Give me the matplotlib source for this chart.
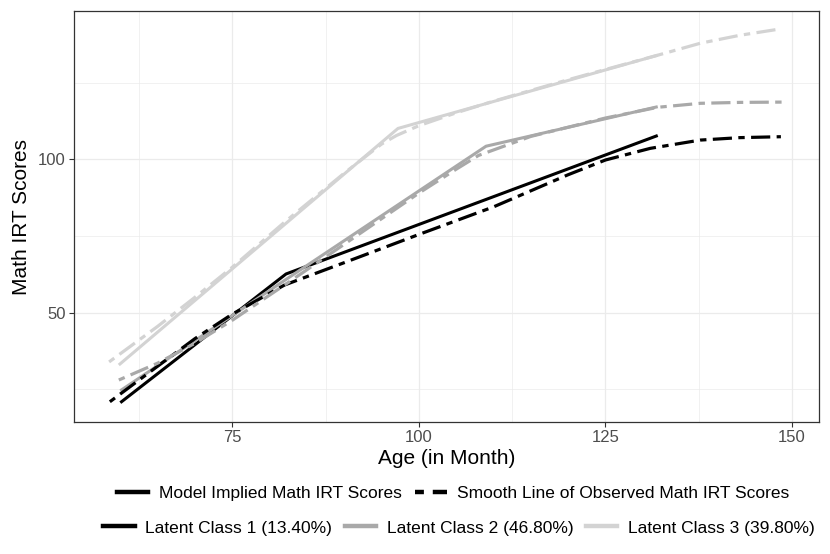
import matplotlib
matplotlib.use("Agg")
import matplotlib.pyplot as plt
from matplotlib.lines import Line2D
from matplotlib.ticker import MultipleLocator

plt.rcParams['font.family'] = ['Liberation Sans', 'DejaVu Sans']

# model implied trajectories (piecewise linear)
class_names = ["Latent Class 1 (13.40%)", "Latent Class 2 (46.80%)", "Latent Class 3 (39.80%)"]
class_colors = ["#000000", "#a9a9a9", "#d3d3d3"]

model_age_1 = [60.0, 82.2, 132.0]
model_score_1 = [20.6, 62.6, 107.8]
model_age_2 = [60.0, 82.0, 109.0, 132.0]
model_score_2 = [24.5, 60.5, 104.3, 117.2]
model_age_3 = [59.8, 97.2, 132.0]
model_score_3 = [32.9, 110.1, 134.0]

# smoothed observed trajectories
smooth_age_1 = [58.6, 65, 70, 75, 82, 90, 100, 110, 120, 125, 131, 137.7, 143, 148.5]
smooth_score_1 = [20.9, 32.5, 41.5, 49.5, 59.0, 66.3, 75.5, 84.5, 95.0, 99.8, 103.6, 106.3, 107.1, 107.4]
smooth_age_2 = [59.8, 65, 70, 75, 82, 90, 100, 105, 108, 115, 125, 132, 137.7, 143, 148.9]
smooth_score_2 = [28.0, 33.5, 40.0, 47.5, 59.0, 72.3, 89.0, 96.8, 101.3, 107.5, 113.5, 117.0, 118.3, 118.6, 118.7]
smooth_age_3 = [58.5, 65, 70, 75, 82, 90, 95, 97, 100, 105, 110, 120, 132, 137.7, 143, 148.5]
smooth_score_3 = [33.9, 45.5, 55.0, 64.8, 79.5, 95.5, 105.0, 107.8, 111.0, 115.2, 119.0, 126.0, 134.0, 137.9, 140.5, 142.6]

model_ages = [model_age_1, model_age_2, model_age_3]
model_scores = [model_score_1, model_score_2, model_score_3]
smooth_ages = [smooth_age_1, smooth_age_2, smooth_age_3]
smooth_scores = [smooth_score_1, smooth_score_2, smooth_score_3]

twodash = (0, (2, 2, 6, 2))

fig = plt.figure(figsize=(8.3, 5.54), dpi=100)
ax = fig.add_axes([0.0892, 0.2383, 0.9867 - 0.0892, 0.980 - 0.2383])

for ages, scores, col in zip(model_ages, model_scores, class_colors):
    ax.plot(ages, scores, color=col, lw=2.2, solid_capstyle='butt', zorder=3)
for ages, scores, col in zip(smooth_ages, smooth_scores, class_colors):
    ax.plot(ages, scores, color=col, lw=2.3, linestyle=twodash, dash_capstyle='butt', zorder=4)

ax.set_xlim(53.8, 153.6)
ax.set_ylim(14.3, 148.4)
ax.xaxis.set_major_locator(MultipleLocator(25))
ax.yaxis.set_major_locator(MultipleLocator(50))
ax.xaxis.set_minor_locator(MultipleLocator(12.5))
ax.yaxis.set_minor_locator(MultipleLocator(25))
ax.grid(which='major', color='#ebebeb', lw=0.9)
ax.grid(which='minor', color='#ebebeb', lw=0.5)
ax.set_axisbelow(True)
ax.tick_params(which='major', length=3.5, width=0.8, color='#333333',
               labelsize=12, labelcolor='#4d4d4d', pad=2.5)
ax.tick_params(which='minor', length=0)
for sp in ax.spines.values():
    sp.set_color('#333333')
    sp.set_linewidth(0.9)

ax.set_xlabel("Age (in Month)", fontsize=15, labelpad=3)
ax.set_ylabel("Math IRT Scores", fontsize=15, labelpad=5)

# legends
type_handles = [Line2D([], [], color='black', lw=3.2),
                Line2D([], [], color='black', lw=3.2, linestyle=twodash)]
type_labels = ["Model Implied Math IRT Scores", "Smooth Line of Observed Math IRT Scores"]
leg1 = fig.legend(type_handles, type_labels, loc='center', bbox_to_anchor=(0.546, 0.110),
                  ncol=2, frameon=False, fontsize=12.5, handlelength=1.8,
                  handletextpad=0.6, columnspacing=0.8)

class_handles = [Line2D([], [], color=c, lw=3.2) for c in class_colors]
leg2 = fig.legend(class_handles, class_names, loc='center', bbox_to_anchor=(0.553, 0.047),
                  ncol=3, frameon=False, fontsize=12.5, handlelength=1.8,
                  handletextpad=0.6, columnspacing=0.75)

fig.savefig("out.png", dpi=100)
